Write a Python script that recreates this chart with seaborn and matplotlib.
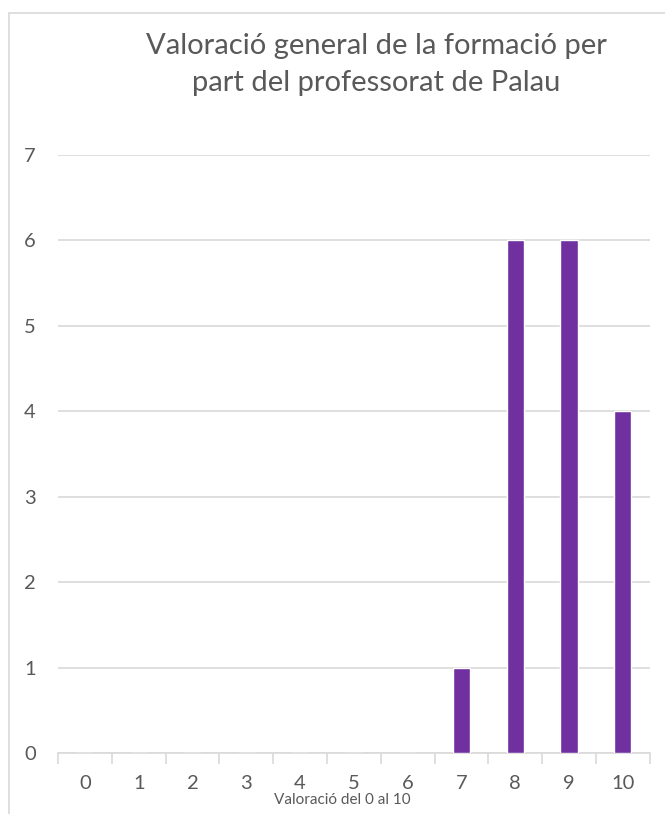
import matplotlib
matplotlib.use("Agg")
import matplotlib.pyplot as plt
import seaborn as sns
import pandas as pd
from matplotlib.patches import Rectangle

# data
categories = ["0", "1", "2", "3", "4", "5", "6", "7", "8", "9", "10"]
counts = [0, 0, 0, 0, 0, 0, 0, 1, 6, 6, 4]
title = "Valoració general de la formació per\npart del professorat de Palau"
xlabel = "Valoració del 0 al 10"

sns.set_theme(style="white")
plt.rcParams['font.family'] = ['Lato', 'DejaVu Sans']

text_col = "#595959"
grid_col = "#d9d9d9"
bar_col = "#7030a0"

df = pd.DataFrame({"cat": categories, "n": counts})

fig = plt.figure(figsize=(6.65, 8.14), dpi=100)
ax = fig.add_axes([0.0872, 0.0749, 0.8898, 0.7347])

#outer chart frame (cut off at right/bottom)
fig.patches.append(Rectangle((9 / 665, -0.1), 1.2, 1 - 13 / 814 + 0.1,
                             transform=fig.transFigure, fill=False,
                             edgecolor=grid_col, linewidth=1.2))

sns.barplot(data=df, x="cat", y="n", color=bar_col, width=0.32,
            saturation=1, ax=ax, zorder=3)

ax.set_xlim(-0.5, 10.5)
ax.set_ylim(0, 7)
ax.set_yticks(range(0, 8))
ax.yaxis.grid(True, color=grid_col, linewidth=1.2, zorder=0)
ax.set_axisbelow(True)

for s in ["top", "right", "left"]:
    ax.spines[s].set_visible(False)
ax.spines["bottom"].set_color(grid_col)
ax.spines["bottom"].set_linewidth(1.2)

ax.set_xticks([i - 0.5 for i in range(12)], minor=True)
ax.tick_params(axis="x", which="minor", length=8, width=1.2, color=grid_col, direction="out")
ax.tick_params(axis="x", which="major", length=0, pad=16, labelsize=14.5, labelcolor=text_col)
ax.tick_params(axis="y", length=0, pad=16, labelsize=14.5, labelcolor=text_col)
ax.tick_params(axis="x", which="minor", bottom=True)

ax.set_xlabel(xlabel, fontsize=11, color=text_col, labelpad=0)
ax.xaxis.set_label_coords(0.48, -0.066)
ax.set_ylabel("")

fig.text(0.566, 0.921, title, ha="center", va="center", fontsize=21,
         color=text_col, linespacing=1.5)

plt.savefig("out.png", dpi=100)
